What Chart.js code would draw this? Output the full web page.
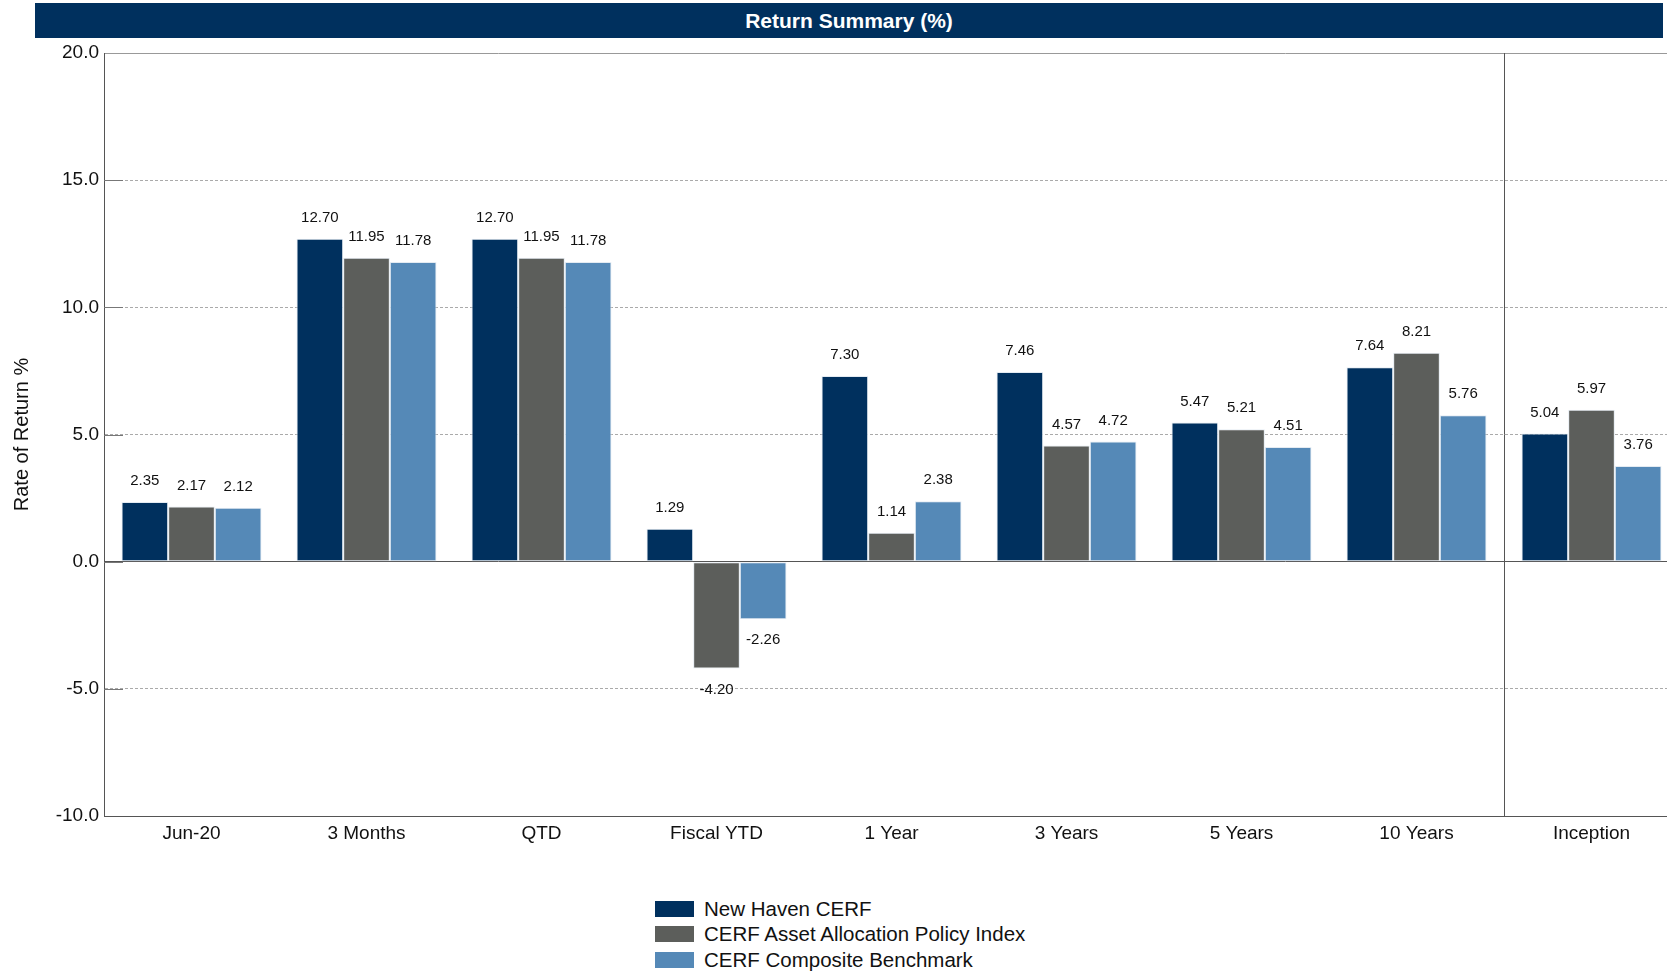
<!DOCTYPE html>
<html>
<head>
<meta charset="utf-8">
<script src="https://cdn.jsdelivr.net/npm/chart.js@4/dist/chart.umd.min.js"></script>
<style>
  html, body { margin: 0; padding: 0; background: #fff; }
  body { width: 1667px; height: 972px; overflow: hidden; position: relative; }
  #title {
    position: absolute; left: 35px; top: 3px; width: 1628px; height: 35px;
    background: #00305E; color: #fff; text-align: center;
    font: bold 21px 'Liberation Sans', Arial, sans-serif;
    line-height: 35px;
  }
  #wrap { position: absolute; left: 0; top: 0; width: 1690px; height: 880px; }
  #legend {
    position: absolute; left: 655px; top: 896px;
    font: 20.5px 'Liberation Sans', Arial, sans-serif; color: #111;
  }
  #legend div { height: 25.5px; display: flex; align-items: center; }
  #legend span.box { display: inline-block; width: 39px; height: 16px; margin-right: 10px; }
</style>
</head>
<body>
<div id="wrap"><canvas id="chartReturns"></canvas></div>
<div id="title">Return Summary (%)</div>
<div id="legend"></div>
<script>
const categories = ['Jun-20', '3 Months', 'QTD', 'Fiscal YTD', '1 Year', '3 Years', '5 Years', '10 Years', 'Inception'];
const newHaven = [2.35, 12.70, 12.70, 1.29, 7.30, 7.46, 5.47, 7.64, 5.04];
const policyIndex = [2.17, 11.95, 11.95, -4.20, 1.14, 4.57, 5.21, 8.21, 5.97];
const composite = [2.12, 11.78, 11.78, -2.26, 2.38, 4.72, 4.51, 5.76, 3.76];
const yMin = -10, yMax = 20, yStep = 5;

const font = "'Liberation Sans', Arial, sans-serif";

// values above / below each bar
const valueLabels = {
    id: 'valueLabels',
    afterDatasetsDraw(chart) {
        const c = chart.ctx;
        c.save();
        c.font = '15px ' + font;
        c.fillStyle = '#111';
        c.textAlign = 'center';
        c.textBaseline = 'middle';
        chart.data.datasets.forEach((ds, i) => {
            chart.getDatasetMeta(i).data.forEach((bar, j) => {
                const v = ds.data[j];
                const y = v >= 0 ? bar.y - 21 : bar.y + 21;
                c.fillText(v.toFixed(2), bar.x, y);
            });
        });
        c.restore();
    }
};

// vertical line before Inception + short solid ticks inside the left axis
const separator = {
    id: 'separator',
    beforeDatasetsDraw(chart) {
        const x = chart.scales.x;
        const y = chart.scales.y;
        const a = chart.chartArea;
        const c = chart.ctx;
        c.save();
        c.strokeStyle = '#555';
        c.lineWidth = 1;
        const px = Math.round((x.getPixelForValue(7) + x.getPixelForValue(8)) / 2) + 0.5;
        c.beginPath();
        c.moveTo(px, a.top);
        c.lineTo(px, a.bottom);
        c.stroke();
        c.strokeStyle = '#777';
        y.ticks.forEach(t => {
            if (t.value === yMin || t.value === yMax) return;
            const py = Math.round(y.getPixelForValue(t.value)) + 0.5;
            c.beginPath();
            c.moveTo(a.left, py);
            c.lineTo(a.left + 19, py);
            c.stroke();
        });
        c.restore();
    }
};

const ctx = document.getElementById('chartReturns');
const chart = new Chart(ctx, {
    type: 'bar',
    data: {
        labels: categories,
        datasets: [
            { label: 'New Haven CERF', data: newHaven, backgroundColor: '#00305E' },
            { label: 'CERF Asset Allocation Policy Index', data: policyIndex, backgroundColor: '#5C5E5B' },
            { label: 'CERF Composite Benchmark', data: composite, backgroundColor: '#5589B7' }
        ]
    },
    options: {
        responsive: true,
        maintainAspectRatio: false,
        animation: false,
        layout: { padding: { top: 53, right: 11, bottom: 0, left: 0 } },
        datasets: {
            bar: {
                categoryPercentage: 0.8,
                barPercentage: 1.0,
                borderWidth: 1,
                borderColor: '#E4EBF2',
                borderSkipped: false
            }
        },
        plugins: {
            legend: { display: false },
            tooltip: { enabled: false }
        },
        scales: {
            x: {
                grid: { display: false, drawTicks: false },
                border: { display: true, color: '#555', width: 1 },
                ticks: { color: '#111', font: { family: font, size: 19 }, padding: 6 },
                afterFit: s => { s.height = 64; }
            },
            y: {
                min: yMin,
                max: yMax,
                grid: {
                    drawTicks: false,
                    color: c => c.tick && c.tick.value === 0 ? '#555' : (c.tick && c.tick.value === yMax ? '#999' : '#aaa'),
                    lineWidth: 1
                },
                border: {
                    color: '#555',
                    width: 1,
                    dash: c => (c.tick && c.tick.value !== 0 && c.tick.value !== yMax) ? [3, 2] : []
                },
                ticks: {
                    stepSize: yStep,
                    color: '#111',
                    padding: 5,
                    font: { family: font, size: 19 },
                    callback: v => v.toFixed(1)
                },
                title: {
                    display: true,
                    text: 'Rate of Return %',
                    color: '#111',
                    padding: { top: 10, bottom: 0 },
                    font: { family: font, size: 20 }
                },
                afterFit: s => { s.width = 104; }
            }
        }
    },
    plugins: [valueLabels, separator]
});

const legend = document.getElementById('legend');
chart.data.datasets.forEach(ds => {
    const row = document.createElement('div');
    const box = document.createElement('span');
    box.className = 'box';
    box.style.background = ds.backgroundColor;
    row.appendChild(box);
    row.appendChild(document.createTextNode(ds.label));
    legend.appendChild(row);
});
</script>
</body>
</html>
